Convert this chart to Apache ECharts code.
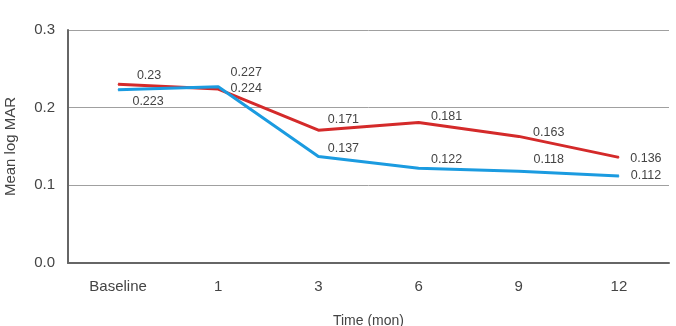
<!DOCTYPE html>
<html>
<head>
<meta charset="utf-8">
<script src="https://cdn.jsdelivr.net/npm/echarts@6/dist/echarts.min.js"></script>
<style>
  html, body { margin: 0; padding: 0; background: #fff; }
  #chart { width: 676px; height: 326px; }
</style>
</head>
<body>
<div id="chart"></div>
<script>
// time points and the two mean logMAR series
const categories = ['Baseline', '1', '3', '6', '9', '12']
const redValues = [0.23, 0.224, 0.171, 0.181, 0.163, 0.136]
const blueValues = [0.223, 0.227, 0.137, 0.122, 0.118, 0.112]

// where each value label sits relative to its point (px)
const redLabelOffsets = [[31, -9], [28, 0], [25, -11], [28, -6], [30, -4], [27, 1]]
const blueLabelOffsets = [[30, 12], [28, -14], [25, -8], [28, -9], [30, -12], [27, 0]]

const font = '"Liberation Sans", Arial, sans-serif'

function withLabels(values, offsets) {
  return values.map((v, i) => ({
    value: v,
    label: { offset: offsets[i] }
  }))
}

function lineSeries(name, color, values, offsets) {
  return {
    name: name,
    type: 'line',
    data: withLabels(values, offsets),
    symbol: 'circle',
    symbolSize: 1,
    itemStyle: { color: color },
    lineStyle: { color: color, width: 3 },
    label: {
      show: true,
      position: 'inside',
      align: 'center',
      verticalAlign: 'middle',
      color: '#444',
      fontSize: 12.5,
      fontFamily: font,
      formatter: p => String(p.value)
    },
    emphasis: { disabled: true },
    animation: false
  }
}

const chart = echarts.init(document.getElementById('chart'))
chart.setOption({
  backgroundColor: '#fff',
  grid: { left: 68, right: 7, top: 30, bottom: 63, outerBoundsMode: 'none' },
  xAxis: {
    type: 'category',
    data: categories,
    boundaryGap: true,
    name: 'Time (mon)',
    nameLocation: 'middle',
    nameGap: 51,
    nameTextStyle: { color: '#444', fontSize: 14, fontFamily: font },
    axisLine: { lineStyle: { color: '#666', width: 2 } },
    axisTick: { show: false },
    axisLabel: { color: '#444', fontSize: 15, fontFamily: font, margin: 16 }
  },
  yAxis: {
    type: 'value',
    min: 0,
    max: 0.3,
    interval: 0.1,
    name: 'Mean log MAR',
    nameLocation: 'middle',
    nameGap: 50,
    nameTextStyle: { color: '#444', fontSize: 15, fontFamily: font },
    axisLine: { show: true, lineStyle: { color: '#666', width: 2 } },
    axisTick: { show: false },
    splitLine: { lineStyle: { color: '#a0a0a0', width: 1 } },
    axisLabel: {
      color: '#444',
      fontSize: 15,
      fontFamily: font,
      margin: 13,
      formatter: v => v.toFixed(1)
    }
  },
  series: [
    lineSeries('red', '#d42a2a', redValues, redLabelOffsets),
    lineSeries('blue', '#1b9be0', blueValues, blueLabelOffsets)
  ]
})
</script>
</body>
</html>
